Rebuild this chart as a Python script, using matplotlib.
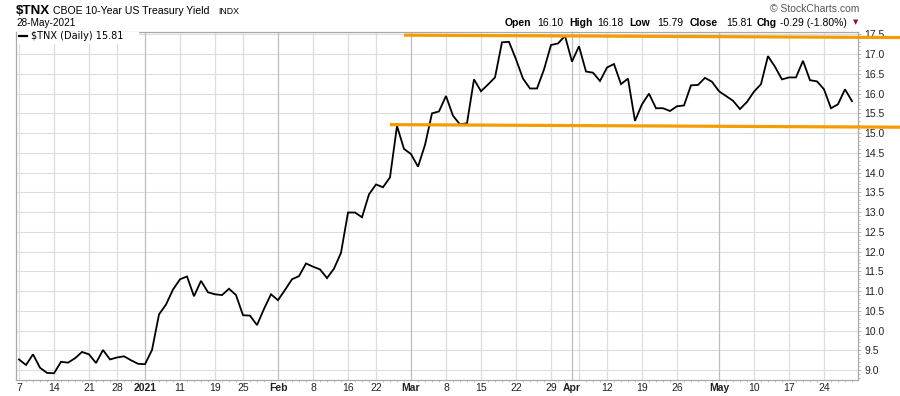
import matplotlib
matplotlib.use("Agg")
import matplotlib.pyplot as plt
import numpy as np

# -------- data: $TNX daily close, 7-Dec-2020 .. 28-May-2021 (trading days) --------
yields = [
    9.27, 9.13, 9.40, 9.06, 8.93, 8.92, 9.21, 9.19, 9.30, 9.46,
    9.40, 9.18, 9.51, 9.27, 9.32, 9.35, 9.25, 9.16, 9.15, 9.51,
    10.41, 10.66, 11.04, 11.30, 11.37, 10.87, 11.26, 10.97, 10.92, 10.90,
    11.06, 10.90, 10.39, 10.38, 10.14, 10.55, 10.92, 10.77, 11.03, 11.30,
    11.38, 11.70, 11.62, 11.55, 11.33, 11.57, 11.97, 12.99, 12.99, 12.87,
    13.45, 13.70, 13.63, 13.88, 15.18, 14.60, 14.47, 14.15, 14.70, 15.50,
    15.55, 15.94, 15.44, 15.22, 15.25, 16.36, 16.06, 16.23, 16.41, 17.30,
    17.31, 16.87, 16.38, 16.13, 16.13, 16.61, 17.23, 17.27, 17.46, 16.81,
    17.20, 16.56, 16.53, 16.32, 16.66, 16.75, 16.24, 16.38, 15.31, 15.73,
    16.00, 15.63, 15.63, 15.56, 15.68, 15.70, 16.21, 16.22, 16.40, 16.30,
    16.06, 15.94, 15.82, 15.61, 15.79, 16.05, 16.24, 16.95, 16.68, 16.36,
    16.41, 16.41, 16.83, 16.34, 16.31, 16.11, 15.63, 15.73, 16.11, 15.81,
]

# week / month tick positions (trading-day index) and labels
tick_pos = [0, 5, 10, 14, 18, 23, 28, 32, 37, 42, 47, 51, 56, 61, 66, 71, 76,
            79, 80, 84, 89, 94, 100, 105, 110, 115]
tick_labels = ['7', '14', '21', '28', '2021', '11', '19', '25', 'Feb', '8', '16',
               '22', 'Mar', '8', '15', '22', '29', 'Apr', '', '12', '19', '26',
               'May', '10', '17', '24']
month_labels = ['2021', 'Feb', 'Mar', 'Apr', 'May']

# hand-drawn orange trend lines (start/end index, start/end value)
resistance_x = [55, 125.9]
resistance_y = [17.48, 17.42]
support_x = [53, 125.9]
support_y = [15.215, 15.15]

W, H = 900, 396
fig = plt.figure(figsize=(W / 100, H / 100), dpi=100)
fig.patch.set_facecolor('white')

def px(x, y):
    return x / W, 1 - y / H

left, right, top, bottom = 16, 858, 32, 380
ax = fig.add_axes([left / W, 1 - bottom / H, (right - left) / W, (bottom - top) / H])

grid_c = '#dddddd'
month_c = '#bdbdbd'
spine_c = '#a8a8a8'
font = 'Liberation Sans'

# gridlines
for v in np.arange(9.0, 17.51, 0.5):
    ax.axhline(v, color=grid_c, lw=0.8, zorder=0)
for p, lab in zip(tick_pos, tick_labels):
    ax.axvline(p, color=month_c if lab in month_labels else grid_c, lw=0.9, zorder=0)

x = np.arange(len(yields))
ax.plot(x, yields, color='black', lw=1.3, zorder=3, solid_joinstyle='miter')

ax.plot(resistance_x, resistance_y, color='#f59c00', lw=2.3, zorder=5,
        clip_on=False, solid_capstyle='butt')
ax.plot(support_x, support_y, color='#f59c00', lw=2.3, zorder=5,
        clip_on=False, solid_capstyle='butt')

ax.set_xlim(-0.43, 119.86)
ax.set_ylim(8.75, 17.56)

ax.set_xticks(tick_pos)
ax.set_xticklabels(tick_labels, fontsize=7.5, family=font, color='#222222')
for t in ax.get_xticklabels():
    if t.get_text() in month_labels:
        t.set_fontweight('bold')
ax.set_xticks(x, minor=True)
ax.tick_params(axis='x', which='major', length=0, pad=2)
ax.tick_params(axis='x', which='minor', length=1.5, width=0.5, color=spine_c)

ax.yaxis.tick_right()
ax.set_yticks(np.arange(9.0, 17.51, 0.5))
ax.set_yticklabels([f'{v:.1f}' for v in np.arange(9.0, 17.51, 0.5)],
                   fontsize=7.5, family=font, color='#222222')
ax.set_yticks(np.arange(8.8, 17.56, 0.1), minor=True)
ax.tick_params(axis='y', which='major', length=2.5, width=0.6, color=spine_c, pad=2)
ax.tick_params(axis='y', which='minor', length=1.5, width=0.5, color=spine_c)

for s in ax.spines.values():
    s.set_color(spine_c)
    s.set_linewidth(0.9)

# -------- header texts --------
fig.text(*px(16, 14.5), '$TNX', fontsize=9.6, fontweight='bold', family=font,
         va='baseline', ha='left')
fig.text(*px(53, 14.5), 'CBOE 10-Year US Treasury Yield', fontsize=7.6, family=font,
         va='baseline', ha='left')
fig.text(*px(218, 14.5), 'INDX', fontsize=6.3, family=font, va='baseline', ha='left')
fig.text(*px(16, 26), '28-May-2021', fontsize=7.2, family=font, va='baseline', ha='left')

fig.text(*px(859, 12), '\u00a9 StockCharts.com', fontsize=7.5, family=font,
         color='#555555', va='baseline', ha='right')

header = [(505, 'Open', True), (537, '16.10', False), (569, 'High', True),
          (597, '16.18', False), (629, 'Low', True), (657, '15.79', False),
          (690, 'Close', True), (726, '15.81', False), (757, 'Chg', True),
          (780, '-0.29 (-1.80%)', False)]
for hx, txt, bold in header:
    fig.text(*px(hx, 25.5), txt, fontsize=7.5, family=font,
             fontweight='bold' if bold else 'normal', va='baseline', ha='left')
fig.text(*px(855.5, 22.5), '\u25bc', fontsize=5, color='#8b1a2b',
         va='center', ha='center', family='DejaVu Sans')

# legend box in the top-left corner
fig.patches.append(plt.Rectangle(px(17, 44), 122 / W, 11.5 / H, transform=fig.transFigure,
                                 facecolor='white', edgecolor='none', zorder=4))
fig.lines.append(plt.Line2D([19 / W, 27 / W], [1 - 36 / H, 1 - 36 / H],
                            transform=fig.transFigure, color='black', lw=1.6, zorder=5))
fig.text(*px(31, 36.2), '$TNX (Daily) 15.81', fontsize=7, family='DejaVu Sans',
         va='center', ha='left', zorder=6)

fig.savefig('out.png', dpi=100)
